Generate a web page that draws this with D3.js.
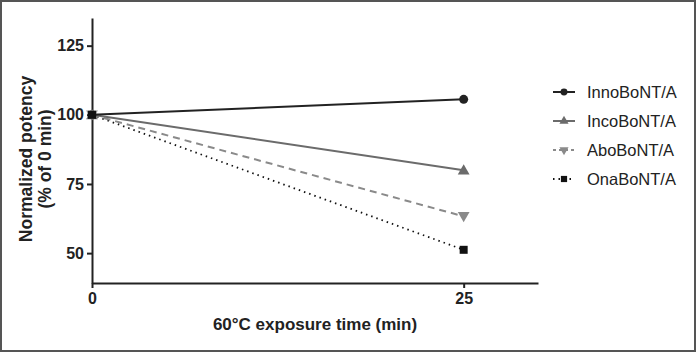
<!DOCTYPE html>
<html>
<head>
<meta charset="utf-8">
<script src="https://cdn.jsdelivr.net/npm/d3@7"></script>
<style>
	body { margin: 0; background: #fff; }
	svg { display: block; font-family: "Liberation Sans", Arial, sans-serif; }
</style>
</head>
<body>
<div id="chart"></div>
<script>
// chart values
let times = [0, 25];
let seriesNames = ["InnoBoNT/A", "IncoBoNT/A", "AboBoNT/A", "OnaBoNT/A"];
let innoValues = [100, 105.6];
let incoValues = [100, 80];
let aboValues = [100, 63.3];
let onaValues = [100, 51.2];
let yTicks = [50, 75, 100, 125];
let xTicks = [0, 25];

let width = 696;
let height = 352;
let margin = { top: 18, right: 158, bottom: 69, left: 92 };

let series = [
	{ name: seriesNames[0], values: innoValues, color: "#222", dash: null, symbol: d3.symbolCircle, size: 64, rotate: 0 },
	{ name: seriesNames[1], values: incoValues, color: "#6b6b6b", dash: null, symbol: d3.symbolTriangle, size: 60, rotate: 0 },
	{ name: seriesNames[2], values: aboValues, color: "#8a8a8a", dash: "7,5", symbol: d3.symbolTriangle, size: 60, rotate: 180 },
	{ name: seriesNames[3], values: onaValues, color: "#111", dash: "1.5,4", symbol: d3.symbolSquare, size: 64, rotate: 0 }
];

let xScale = d3.scaleLinear()
	.domain([0, 30])
	.range([margin.left, width - margin.right]);

let yScale = d3.scaleLinear()
	.domain([39.2, 135])
	.range([height - margin.bottom, margin.top]);

let svg = d3.select("#chart")
	.append("svg")
	.attr("width", width)
	.attr("height", height);

// frame around the figure
svg.append("rect")
	.attr("x", 1).attr("y", 1)
	.attr("width", width - 2).attr("height", height - 2)
	.attr("fill", "none")
	.attr("stroke", "#555")
	.attr("stroke-width", 2);

let line = d3.line()
	.x((d, i) => xScale(times[i]))
	.y(d => yScale(d));

// lines, drawn back to front
series.slice().reverse().forEach(s => {
	svg.append("path")
		.datum(s.values)
		.attr("d", line)
		.attr("fill", "none")
		.attr("stroke", s.color)
		.attr("stroke-width", s.dash === "1.5,4" ? 1.8 : 2)
		.attr("stroke-dasharray", s.dash);
});

// axes
let xAxis = svg.append("g")
	.attr("transform", `translate(0,${height - margin.bottom})`)
	.call(d3.axisBottom(xScale).tickValues(xTicks).tickSize(5).tickPadding(5).tickSizeOuter(0));

let yAxis = svg.append("g")
	.attr("transform", `translate(${margin.left},0)`)
	.call(d3.axisLeft(yScale).tickValues(yTicks).tickSize(5).tickPadding(3).tickSizeOuter(0));

[xAxis, yAxis].forEach(g => {
	g.select(".domain").attr("stroke", "#222").attr("stroke-width", 2);
	g.selectAll(".tick line").attr("stroke", "#222").attr("stroke-width", 2);
	g.selectAll(".tick text")
		.attr("fill", "#222")
		.style("font-size", "16px")
		.style("font-weight", "bold")
		.style("font-family", "Liberation Sans, Arial, sans-serif");
});

// markers
series.forEach(s => {
	svg.selectAll(null)
		.data(s.values)
		.enter()
		.append("path")
		.attr("d", d3.symbol().type(s.symbol).size(s.size))
		.attr("transform", (d, i) => `translate(${xScale(times[i])},${yScale(d) + (s.rotate ? -1 : (s.symbol === d3.symbolTriangle ? 1 : 0))}) rotate(${s.rotate})`)
		.attr("fill", s.color);
});

// axis titles
svg.append("text")
	.attr("x", 315)
	.attr("y", 330)
	.attr("text-anchor", "middle")
	.style("font-size", "17px")
	.style("font-weight", "bold")
	.attr("fill", "#222")
	.text("60°C exposure time (min)");

let yTitle = svg.append("text")
	.attr("transform", "translate(32,159) rotate(-90)")
	.attr("text-anchor", "middle")
	.style("font-size", "17.5px")
	.style("font-weight", "bold")
	.attr("fill", "#222");
yTitle.append("tspan").attr("x", 0).attr("dy", 0).text("Normalized potency");
yTitle.append("tspan").attr("x", 0).attr("dy", 18.5).text("(% of 0 min)");

// legend
let legend = svg.append("g");
series.forEach((s, i) => {
	let y = 92 + i * 29;
	legend.append("line")
		.attr("x1", 553).attr("x2", 575)
		.attr("y1", y).attr("y2", y)
		.attr("stroke", s.color)
		.attr("stroke-width", 2)
		.attr("stroke-dasharray", s.dash === "7,5" ? "3,3" : (s.dash ? "1.5,4" : null));
	legend.append("path")
		.attr("d", d3.symbol().type(s.symbol).size(s.size * 0.6))
		.attr("transform", `translate(564,${y}) rotate(${s.rotate})`)
		.attr("fill", s.color);
	legend.append("text")
		.attr("x", 587)
		.attr("y", y + 6)
		.style("font-size", "16.5px")
		.attr("fill", "#222")
		.text(s.name);
});
</script>
</body>
</html>
